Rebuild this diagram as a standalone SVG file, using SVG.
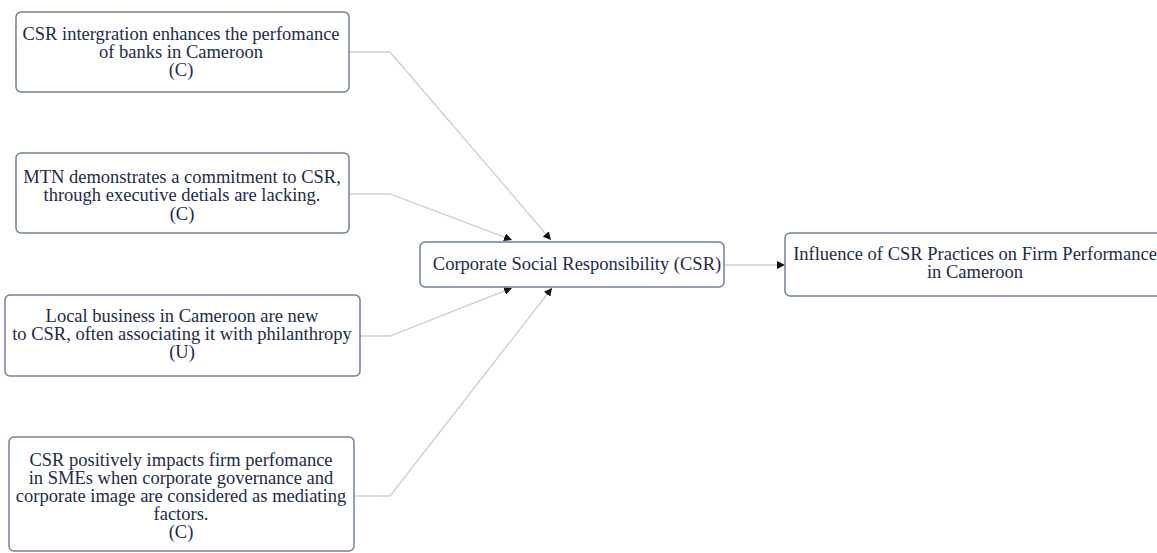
<svg xmlns="http://www.w3.org/2000/svg" width="1157" height="553" viewBox="0 0 1157 553">
  <defs>
    <marker id="arrow" viewBox="0 0 10 10" refX="10" refY="5" markerWidth="8" markerHeight="8" markerUnits="userSpaceOnUse" orient="auto">
      <path d="M0,0 L10,5 L0,10 z" fill="#111"/>
    </marker>
    <style>
      .box { fill: #ffffff; stroke: #6f80a0; stroke-width: 1.5; }
      .lbl { font-family: "Liberation Serif", "Times New Roman", serif; font-size: 18.5px; fill: #1d2a4b; text-anchor: middle; }
      .edge { fill: none; stroke: #cfcfcf; stroke-width: 1.3; marker-end: url(#arrow); }
    </style>
  </defs>
  <rect width="1157" height="553" fill="#ffffff"/>

  <g id="connectors">
    <polyline class="edge" points="349,52 390,52 551,240"/>
    <polyline class="edge" points="349,194 390,194 512,240"/>
    <polyline class="edge" points="360,336 390,336 512,288"/>
    <polyline class="edge" points="355,496 390,496 552,288"/>
    <polyline class="edge" points="724,265 785,265"/>
  </g>

  <g id="node-banks">
    <rect class="box" x="16" y="12" width="333" height="80" rx="5"/>
    <text class="lbl" x="181" y="40">CSR intergration enhances the perfomance</text>
    <text class="lbl" x="181" y="58">of banks in Cameroon</text>
    <text class="lbl" x="181" y="76">(C)</text>
  </g>

  <g id="node-mtn">
    <rect class="box" x="16" y="153" width="333" height="80" rx="5"/>
    <text class="lbl" x="182" y="183">MTN demonstrates a commitment to CSR,</text>
    <text class="lbl" x="182" y="201">through executive detials are lacking.</text>
    <text class="lbl" x="182" y="220">(C)</text>
  </g>

  <g id="node-local">
    <rect class="box" x="5" y="295" width="355" height="81" rx="5"/>
    <text class="lbl" x="182" y="322">Local business in Cameroon are new</text>
    <text class="lbl" x="182" y="340">to CSR, often associating it with philanthropy</text>
    <text class="lbl" x="182" y="358">(U)</text>
  </g>

  <g id="node-smes">
    <rect class="box" x="9" y="437" width="345" height="114" rx="5"/>
    <text class="lbl" x="181" y="466">CSR positively impacts firm perfomance</text>
    <text class="lbl" x="181" y="484">in SMEs when corporate governance and</text>
    <text class="lbl" x="181" y="502">corporate image are considered as mediating</text>
    <text class="lbl" x="181" y="520">factors.</text>
    <text class="lbl" x="181" y="538">(C)</text>
  </g>

  <g id="node-csr">
    <rect class="box" x="420" y="242" width="304" height="45" rx="5"/>
    <text class="lbl" x="577" y="270">Corporate Social Responsibility (CSR)</text>
  </g>

  <g id="node-influence">
    <rect class="box" x="785" y="233" width="380" height="63" rx="5"/>
    <text class="lbl" x="975" y="260">Influence of CSR Practices on Firm Performance</text>
    <text class="lbl" x="975" y="278">in Cameroon</text>
  </g>
</svg>
